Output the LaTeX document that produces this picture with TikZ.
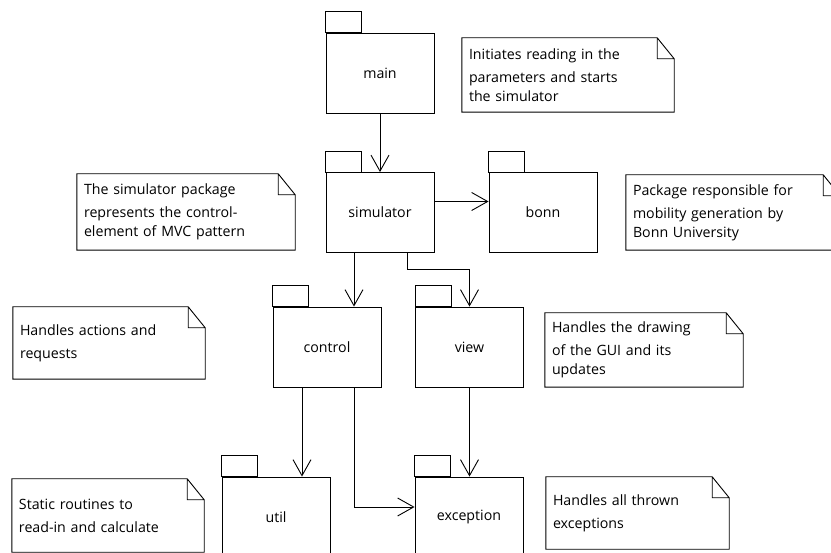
\documentclass[tikz,border=0pt]{standalone}
\usepackage{fontspec}
\setmainfont{Open Sans}
\usetikzlibrary{arrows.meta}

% dog-eared frame around a note node
\newcommand\noteframe[1]{%
  \draw[frame] (#1.north west) -- ([xshift=-17pt]#1.north east)
    -- ([yshift=-21pt]#1.north east) -- (#1.south east)
    -- (#1.south west) -- cycle
    ([xshift=-17pt]#1.north east) |- ([yshift=-21pt]#1.north east);}
% tab on top of a package node
\newcommand\pkgtab[1]{%
  \draw[frame] (#1.north west) rectangle ([xshift=36pt,yshift=21pt]#1.north west);}

\begin{document}
\begin{tikzpicture}[x=1pt,y=-1pt,
  frame/.style={line width=0.9pt, draw=black},
  txt/.style={font=\fontsize{14.2}{19}\selectfont},
  pkg/.style={frame, txt, minimum width=108pt, minimum height=80pt, inner sep=0pt},
  note/.style={txt, inner xsep=7pt, inner ysep=0pt, align=left,
    execute at begin node={\vspace*{4pt}}},
  dep/.style={line width=0.9pt, -{Straight Barb[length=16pt,width=18pt]}}]
\useasboundingbox (0,0) rectangle (831,553);

% packages
\node[pkg] (main)      at (380,73)    {main};
\node[pkg] (simulator) at (380,212.5) {simulator};
\node[pkg] (bonn)      at (543,212.5) {bonn};
\node[pkg] (control)   at (327,347)   {control};
\node[pkg] (view)      at (469.5,347) {view};
\node[pkg] (util)      at (276,517)   {util};
\node[pkg] (exception) at (469,517)   {exception};
\foreach \p in {main,simulator,bonn,control,view,util,exception} {\pkgtab{\p}}

% notes
\node[note, text width=198pt, minimum height=74pt] (nmain) at (568,75)
  {Initiates reading in the\\parameters and starts\\the simulator};
\node[note, text width=204pt, minimum height=76pt] (nsim) at (186,212)
  {The simulator package\\represents the control-\\element of MVC pattern};
\node[note, text width=200pt, minimum height=75pt] (nbonn) at (733,212.5)
  {Package responsible for\\mobility generation by\\Bonn University};
\node[note, text width=178pt, minimum height=72pt] (ncontrol) at (109,343)
  {Handles actions and\\requests};
\node[note, text width=184pt, minimum height=74pt] (nview) at (644,350)
  {Handles the drawing\\of the GUI and its\\updates};
\node[note, text width=178pt, minimum height=73pt] (nutil) at (108,515.5)
  {Static routines to\\read-in and calculate};
\node[note, text width=169pt, minimum height=72pt] (nexc) at (637.5,513)
  {Handles all thrown\\exceptions};
\foreach \n in {nmain,nsim,nbonn,ncontrol,nview,nutil,nexc} {\noteframe{\n}}

% dependencies
\draw[dep] (main.south) -- (simulator.north);
\draw[dep] ([yshift=11pt]simulator.east) -- ([yshift=11pt]simulator.east -| bonn.west);
\draw[dep] ([xshift=-26pt]simulator.south) -- ([xshift=-26pt]simulator.south |- control.north);
\draw[dep] ([xshift=27pt]simulator.south) -- ++(0pt,-17pt) -| (view.north);
\draw[dep] ([xshift=-25pt]control.south) -- ([xshift=-25pt]control.south |- util.north);
\draw[dep] ([xshift=27pt]control.south) |- ([yshift=10pt]exception.west);
\draw[dep] (view.south) -- (view.south |- exception.north);
\end{tikzpicture}
\end{document}
